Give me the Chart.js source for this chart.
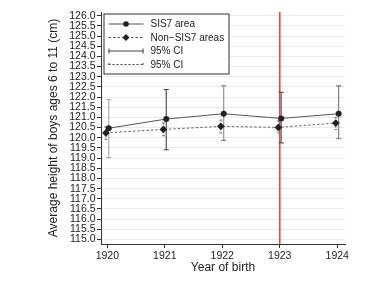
<!DOCTYPE html>
<html>
<head>
<meta charset="utf-8">
<script src="https://cdn.jsdelivr.net/npm/chart.js@4/dist/chart.umd.min.js"></script>
<style>
html,body{margin:0;padding:0;background:#fff;}
#wrap{width:392px;height:286px;position:relative;}
</style>
</head>
<body>
<div id="wrap"><canvas id="c" width="392" height="286"></canvas></div>
<script>
const years = [1920, 1921, 1922, 1923, 1924];
const sis7 = [120.47, 120.92, 121.18, 120.95, 121.18];
const sis7Lo = [119.03, 119.41, 119.87, 119.75, 119.95];
const sis7Hi = [121.88, 122.37, 122.55, 122.23, 122.55];
const nonSis7 = [120.24, 120.41, 120.56, 120.51, 120.72];
const nonSis7Lo = [119.92, 120.10, 120.24, 120.24, 120.41];
const nonSis7Hi = [120.54, 120.73, 120.87, 120.83, 121.00];
const yTicks = [115.0, 115.5, 116.0, 116.5, 117.0, 117.5, 118.0, 118.5, 119.0, 119.5, 120.0, 120.5, 121.0, 121.5, 122.0, 122.5, 123.0, 123.5, 124.0, 124.5, 125.0, 125.5, 126.0];
const xTicks = [1920, 1921, 1922, 1923, 1924];
const treatYear = 1923;
const legendLabels = ['SIS7 area', 'Non\u2212SIS7 areas', '95% CI', '95% CI'];
const xLabel = 'Year of birth';
const yLabel = 'Average height of boys ages 6 to 11 (cm)';

const SHIFT = 0.025;
const FONT = 'Liberation Sans, Arial, Helvetica, sans-serif';

const sisPts = years.map((y, i) => ({x: y + SHIFT, y: sis7[i]}));
const nonPts = years.map((y, i) => ({x: y - SHIFT, y: nonSis7[i]}));

const overlay = {
  id: 'overlay',
  beforeDatasetsDraw(chart) {
    const {ctx, chartArea: a, scales: {x, y}} = chart;
    ctx.save();
    // red vertical line
    const rx = x.getPixelForValue(treatYear);
    ctx.strokeStyle = '#e8473f';
    ctx.lineWidth = 1.6;
    ctx.beginPath(); ctx.moveTo(rx, a.top); ctx.lineTo(rx, a.bottom); ctx.stroke();
    // SIS7 CIs
    const sisCol = ['#a8a8a8', '#444', '#888', '#555', '#777'];
    years.forEach((yr, i) => {
      const px = x.getPixelForValue(yr + SHIFT);
      const t = y.getPixelForValue(sis7Hi[i]), b = y.getPixelForValue(sis7Lo[i]);
      ctx.strokeStyle = sisCol[i]; ctx.lineWidth = 1.1; ctx.setLineDash([]);
      ctx.beginPath();
      ctx.moveTo(px, t); ctx.lineTo(px, b);
      ctx.moveTo(px - 2.6, t); ctx.lineTo(px + 2.6, t);
      ctx.moveTo(px - 2.6, b); ctx.lineTo(px + 2.6, b);
      ctx.stroke();
    });
    // non-SIS7 CIs
    years.forEach((yr, i) => {
      const px = x.getPixelForValue(yr - SHIFT);
      const t = y.getPixelForValue(nonSis7Hi[i]), b = y.getPixelForValue(nonSis7Lo[i]);
      ctx.strokeStyle = '#777'; ctx.lineWidth = 1; ctx.setLineDash([1.5, 1.5]);
      ctx.beginPath(); ctx.moveTo(px, t); ctx.lineTo(px, b); ctx.stroke();
      ctx.setLineDash([]);
      ctx.beginPath();
      ctx.moveTo(px - 1.5, t); ctx.lineTo(px + 1.5, t);
      ctx.moveTo(px - 1.5, b); ctx.lineTo(px + 1.5, b);
      ctx.stroke();
    });
    ctx.restore();
  },
  afterDraw(chart) {
    const {ctx, chartArea: a} = chart;
    ctx.save();
    const bx = a.left + 2.5, by = a.top + 1.5, bw = 125, bh = 60;
    ctx.fillStyle = '#fff';
    ctx.fillRect(bx, by, bw, bh);
    ctx.strokeStyle = '#333'; ctx.lineWidth = 1;
    ctx.strokeRect(bx + 0.5, by + 0.5, bw, bh);
    const x0 = bx + 5, x1 = bx + 40, xm = (x0 + x1) / 2, tx = bx + 47;
    const rows = [by + 10.5, by + 24, by + 37.5, by + 51];
    ctx.font = '10px ' + FONT;
    ctx.fillStyle = '#222';
    ctx.textBaseline = 'middle';
    legendLabels.forEach((l, i) => ctx.fillText(l, tx, rows[i] + 0.5));
    // row 1
    ctx.strokeStyle = '#555'; ctx.lineWidth = 1;
    ctx.beginPath(); ctx.moveTo(x0, rows[0]); ctx.lineTo(x1, rows[0]); ctx.stroke();
    ctx.fillStyle = '#222';
    ctx.beginPath(); ctx.arc(xm, rows[0], 2.8, 0, Math.PI * 2); ctx.fill();
    // row 2
    ctx.setLineDash([2.5, 2]);
    ctx.beginPath(); ctx.moveTo(x0, rows[1]); ctx.lineTo(x1, rows[1]); ctx.stroke();
    ctx.setLineDash([]);
    ctx.beginPath();
    ctx.moveTo(xm, rows[1] - 3.5); ctx.lineTo(xm + 3.5, rows[1]); ctx.lineTo(xm, rows[1] + 3.5); ctx.lineTo(xm - 3.5, rows[1]);
    ctx.closePath(); ctx.fill();
    // row 3
    ctx.strokeStyle = '#444';
    ctx.beginPath();
    ctx.moveTo(x0, rows[2]); ctx.lineTo(x1, rows[2]);
    ctx.moveTo(x0 + 0.5, rows[2] - 2.5); ctx.lineTo(x0 + 0.5, rows[2] + 2.5);
    ctx.moveTo(x1 - 0.5, rows[2] - 2.5); ctx.lineTo(x1 - 0.5, rows[2] + 2.5);
    ctx.stroke();
    // row 4
    ctx.setLineDash([2, 2]);
    ctx.beginPath(); ctx.moveTo(x0, rows[3]); ctx.lineTo(x1, rows[3]); ctx.stroke();
    ctx.setLineDash([]);
    ctx.beginPath();
    ctx.moveTo(x0 + 0.5, rows[3] - 1.5); ctx.lineTo(x0 + 0.5, rows[3] + 0.5);
    ctx.moveTo(x1 - 0.5, rows[3] - 1.5); ctx.lineTo(x1 - 0.5, rows[3] + 0.5);
    ctx.stroke();
    ctx.restore();
  }
};

new Chart(document.getElementById('c'), {
  type: 'scatter',
  data: {
    datasets: [
      {
        label: legendLabels[0], data: sisPts, showLine: true,
        borderColor: '#555', borderWidth: 1, pointStyle: 'circle', pointRadius: 3,
        pointBackgroundColor: '#222', pointBorderColor: '#222', pointBorderWidth: 0
      },
      {
        label: legendLabels[1], data: nonPts, showLine: true,
        borderColor: '#666', borderWidth: 1, borderDash: [2.5, 2],
        pointStyle: 'rectRot', pointRadius: 3.8,
        pointBackgroundColor: '#222', pointBorderColor: '#222', pointBorderWidth: 0
      }
    ]
  },
  options: {
    responsive: false, animation: false, devicePixelRatio: 1,
    layout: {padding: {left: 40, right: 47, top: 12, bottom: 0}},
    plugins: {legend: {display: false}, tooltip: {enabled: false}},
    scales: {
      x: {
        type: 'linear', min: 1919.89, max: 1924.135,
        afterBuildTicks: s => { s.ticks = xTicks.map(v => ({value: v})); },
        afterFit: s => { s.height = 42; },
        grid: {drawOnChartArea: false, tickLength: 4, tickColor: '#333'},
        border: {color: '#333', width: 1},
        ticks: {color: '#222', font: {family: FONT, size: 10.5}, padding: 2, callback: v => String(v), maxRotation: 0},
        title: {display: true, text: xLabel, color: '#222', font: {family: FONT, size: 12}, padding: {top: 0, bottom: 11}}
      },
      y: {
        min: 114.78, max: 126.18,
        afterBuildTicks: s => { s.ticks = yTicks.map(v => ({value: v})); },
        afterFit: s => { s.width = 61; },
        grid: {color: '#ebebeb', lineWidth: 1, tickLength: 4, tickColor: '#333'},
        border: {color: '#333', width: 1},
        ticks: {color: '#222', font: {family: FONT, size: 10.5}, padding: 1.5, autoSkip: false, callback: v => Number(v).toFixed(1)},
        title: {display: true, text: yLabel, color: '#222', font: {family: FONT, size: 12}, padding: {top: 6, bottom: 0}}
      }
    }
  },
  plugins: [overlay]
});
</script>
</body>
</html>
